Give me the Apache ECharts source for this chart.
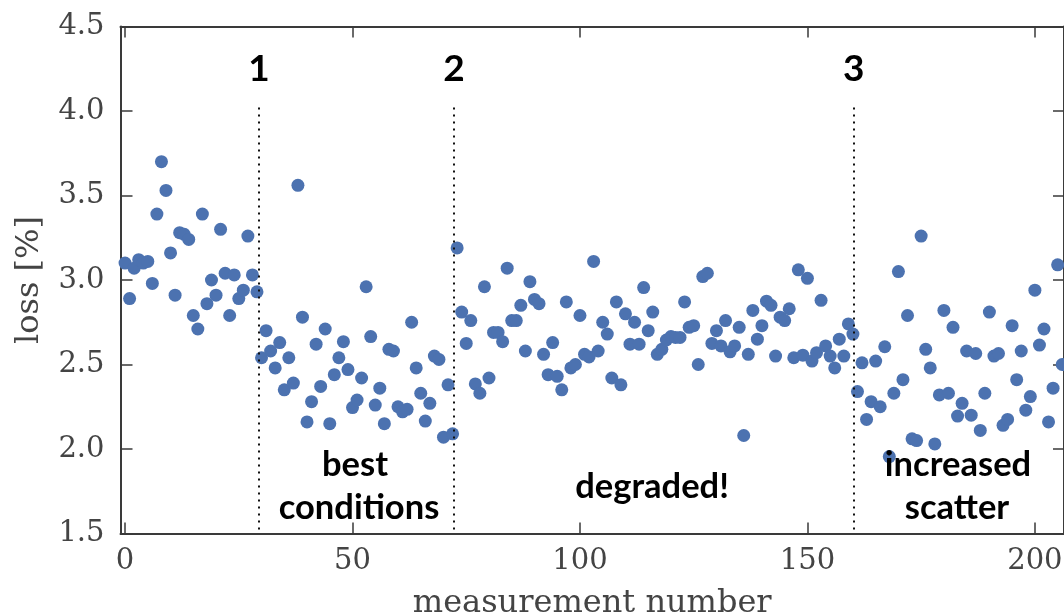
<!DOCTYPE html>
<html>
<head>
<meta charset="utf-8">
<script src="https://cdn.jsdelivr.net/npm/echarts@6/dist/echarts.min.js"></script>
<style>
html,body{margin:0;padding:0;background:#fff;}
#chart{width:1064px;height:613px;}
</style>
</head>
<body>
<div id="chart"></div>
<script>
// measured loss [%] per measurement number (index = measurement number)
const lossValues = [
  3.10, 2.89, 3.07, 3.12, 3.10, 3.11, 2.98, 3.39, 3.70, 3.53,
  3.16, 2.91, 3.28, 3.27, 3.24, 2.79, 2.71, 3.39, 2.86, 3.00,
  2.91, 3.30, 3.04, 2.79, 3.03, 2.89, 2.94, 3.26, 3.03, 2.93,
  2.54, 2.70, 2.58, 2.48, 2.63, 2.35, 2.54, 2.39, 3.56, 2.78,
  2.16, 2.28, 2.62, 2.37, 2.71, 2.15, 2.44, 2.54, 2.635, 2.47,
  2.245, 2.29, 2.42, 2.96, 2.665, 2.26, 2.36, 2.15, 2.59, 2.58,
  2.25, 2.22, 2.235, 2.75, 2.48, 2.33, 2.165, 2.27, 2.55, 2.53,
  2.07, 2.38, 2.09, 3.19, 2.81, 2.625, 2.76, 2.385, 2.33, 2.96,
  2.42, 2.69, 2.69, 2.635, 3.07, 2.76, 2.76, 2.85, 2.58, 2.99,
  2.885, 2.86, 2.56, 2.44, 2.63, 2.43, 2.35, 2.87, 2.48, 2.50,
  2.79, 2.56, 2.545, 3.11, 2.58, 2.75, 2.68, 2.42, 2.87, 2.38,
  2.80, 2.62, 2.75, 2.62, 2.955, 2.70, 2.81, 2.56, 2.59, 2.645,
  2.665, 2.66, 2.66, 2.87, 2.72, 2.73, 2.50, 3.02, 3.04, 2.625,
  2.70, 2.61, 2.76, 2.575, 2.61, 2.72, 2.08, 2.56, 2.82, 2.65,
  2.73, 2.875, 2.85, 2.55, 2.78, 2.76, 2.83, 2.54, 3.06, 2.555,
  3.01, 2.52, 2.57, 2.88, 2.61, 2.55, 2.48, 2.65, 2.55, 2.74,
  2.68, 2.34, 2.51, 2.175, 2.28, 2.52, 2.25, 2.605, 1.955, 2.33,
  3.05, 2.41, 2.79, 2.06, 2.05, 3.26, 2.59, 2.48, 2.03, 2.32,
  2.82, 2.33, 2.72, 2.195, 2.27, 2.58, 2.20, 2.565, 2.11, 2.33,
  2.81, 2.55, 2.565, 2.14, 2.175, 2.73, 2.41, 2.58, 2.23, 2.31,
  2.94, 2.615, 2.71, 2.16, 2.36, 3.09, 2.50
];
const xTickValues = [0, 50, 100, 150, 200];
const yTicks = {min: 1.5, max: 4.5, step: 0.5};
const xRange = {min: -1, max: 206.4};
// boundaries between measurement phases
const phaseBreaks = [29.45, 72.3, 160.2];
const phaseBreakLabels = ['1', '2', '3'];
const phaseBreakTop = 4.02;
const regionLabels = [
  {text: 'best', x: 355, y: 465},
  {text: 'conditions', x: 359, y: 508},
  {text: 'degraded!', x: 652, y: 487},
  {text: 'increased', x: 958, y: 465},
  {text: 'scatter', x: 957, y: 508}
];

const points = lossValues.map((v, i) => [i, v]);
const axisColor = '#3a3a3a';
const serif = 'DejaVu Serif';

const chart = echarts.init(document.getElementById('chart'), null, {renderer: 'canvas'});

const markLineData = phaseBreaks.map((x, k) => [
  {coord: [x, phaseBreakTop], label: {show: true, formatter: phaseBreakLabels[k]}},
  {coord: [x, yTicks.min]}
]);

const option = {
  animation: false,
  backgroundColor: '#fff',
  grid: {left: 120.5, right: 0, top: 26.5, bottom: 79.5, containLabel: false, outerBoundsMode: 'none'},
  xAxis: [{
    type: 'value', min: xRange.min, max: xRange.max, position: 'bottom',
    name: 'measurement number', nameLocation: 'middle', nameGap: 54,
    nameTextStyle: {fontFamily: serif, fontSize: 32, color: '#444'},
    axisLine: {show: true, onZero: false, lineStyle: {color: axisColor, width: 2}},
    axisTick: {show: true, inside: true, length: 11, customValues: xTickValues, lineStyle: {color: axisColor, width: 1.5}},
    axisLabel: {show: true, customValues: xTickValues, margin: 13, fontFamily: serif, fontSize: 29, color: '#444'},
    splitLine: {show: false}
  }, {
    type: 'value', min: xRange.min, max: xRange.max, position: 'top',
    axisLine: {show: true, onZero: false, lineStyle: {color: axisColor, width: 2}},
    axisTick: {show: true, inside: true, length: 11, customValues: xTickValues, lineStyle: {color: axisColor, width: 1.5}},
    axisLabel: {show: false},
    splitLine: {show: false}
  }],
  yAxis: [{
    type: 'value', min: yTicks.min, max: yTicks.max, interval: yTicks.step, position: 'left',
    name: 'loss [%]', nameLocation: 'middle', nameGap: 75, nameRotate: 90,
    nameTextStyle: {fontFamily: serif, fontSize: 32, color: '#444'},
    axisLine: {show: true, onZero: false, lineStyle: {color: axisColor, width: 2}},
    axisTick: {show: true, inside: true, length: 12, lineStyle: {color: axisColor, width: 1.5}},
    axisLabel: {show: true, margin: 16, fontFamily: serif, fontSize: 29, color: '#444', formatter: v => v.toFixed(1)},
    splitLine: {show: false}
  }, {
    type: 'value', min: yTicks.min, max: yTicks.max, interval: yTicks.step, position: 'right',
    axisLine: {show: true, onZero: false, lineStyle: {color: axisColor, width: 2}},
    axisTick: {show: true, inside: true, length: 11, lineStyle: {color: axisColor, width: 1.5}},
    axisLabel: {show: false},
    splitLine: {show: false}
  }],
  series: [{
    type: 'scatter',
    xAxisIndex: 0, yAxisIndex: 0,
    data: points,
    symbol: 'circle',
    symbolSize: 13,
    itemStyle: {color: '#4C72B0', opacity: 1},
    z: 3,
    markLine: {
      silent: true,
      symbol: ['none', 'none'],
      lineStyle: {color: '#111', width: 2, type: [2, 5]},
      label: {
        position: 'start', distance: 20,
        fontFamily: 'Lato', fontWeight: 'bold', fontSize: 37, color: '#000'
      },
      data: markLineData
    }
  }],
  graphic: regionLabels.map(l => ({
    type: 'text', x: l.x, y: l.y, z: 10,
    style: {
      text: l.text, fontFamily: 'Lato', fontWeight: 'bold', fontSize: 34.5,
      fill: '#000', align: 'center', verticalAlign: 'middle'
    }
  }))
};
chart.setOption(option);
</script>
</body>
</html>
